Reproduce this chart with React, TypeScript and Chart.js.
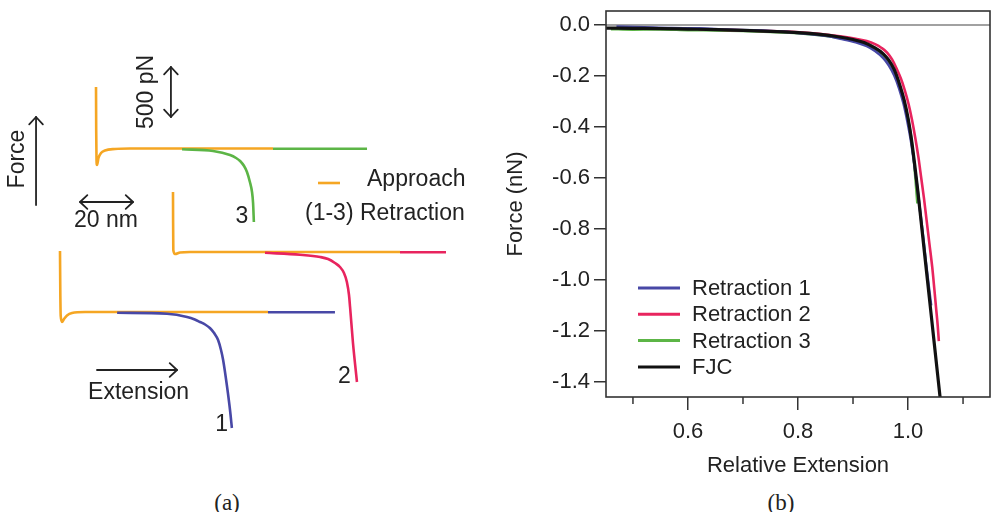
import React, { useEffect, useRef } from 'react';
import { Chart, registerables } from 'chart.js';

Chart.register(...registerables);

const FONT = '"Liberation Sans", Arial, Helvetica, sans-serif';
const SERIF = '"Liberation Serif", "Times New Roman", serif';

const ORANGE = '#f5a623';
const BLUE = '#4848a6';
const PINK = '#e8245e';
const GREEN = '#5cb546';
const BLACK = '#111111';
const INK = '#222222';

// ---------- Panel (a): schematic traces. Extension in nm, force in pN (traces offset vertically) ----------
const approach1Ext = [22.64, 22.75, 22.91, 23.4, 24.15, 25.28, 27.17, 32.08, 101.13];
const approach1Force = [2190, 1800, 1540, 1480, 1510, 1545, 1570, 1580, 1580];
const retraction1Ext = [44.2, 63.0, 70.6, 73.5, 75.5, 77.4, 79.2, 80.8, 82.3, 83.4, 84.2, 85.7, 86.8, 87.5];
const retraction1Force = [1572, 1562, 1530, 1505, 1480, 1455, 1420, 1370, 1300, 1200, 1100, 830, 600, 420];
const retraction1TailExt = [101.13, 126.4];
const retraction1TailForce = [1578, 1578];

const approach2Ext = [65.28, 65.32, 65.4, 66.04, 67.92, 71.7, 150.94];
const approach2Force = [2780, 2500, 2200, 2160, 2175, 2180, 2180];
const retraction2Ext = [100.0, 113.2, 120.8, 123.8, 126.4, 128.3, 129.8, 130.9, 131.7, 132.1, 133.2, 134.7];
const retraction2Force = [2172, 2152, 2130, 2110, 2070, 2030, 1970, 1880, 1750, 1630, 1270, 880];
const retraction2TailExt = [150.94, 168.3];
const retraction2TailForce = [2178, 2178];

const approach3Ext = [36.23, 36.3, 36.42, 36.6, 37.17, 38.11, 39.62, 43.4, 49.06, 103.02];
const approach3Force = [3830, 3400, 3100, 3050, 3120, 3170, 3195, 3210, 3215, 3215];
const retraction3Ext = [68.7, 80.4, 86.8, 89.1, 90.6, 92.1, 93.2, 94.3, 95.1, 95.5, 95.8];
const retraction3Force = [3207, 3190, 3150, 3120, 3090, 3040, 2980, 2880, 2780, 2670, 2480];
const retraction3TailExt = [103.02, 138.5];
const retraction3TailForce = [3213, 3213];

// scale bars / arrows of the schematic (nm, pN)
const forceArrow = { ext: 13.6, from: 2650, to: 3530 };
const pNBar = { ext: 64.5, from: 3530, to: 4030, label: '500 pN' };
const nmBar = { force: 2680, from: 30.2, to: 50.2, label: '20 nm' };
const extensionArrow = { force: 1000, from: 36.6, to: 66.8 };

// ---------- Panel (b): relative extension vs force (nN) ----------
const r1Ext = [0.47, 0.52, 0.57, 0.62, 0.67, 0.72, 0.77, 0.81, 0.85, 0.88, 0.905, 0.925, 0.94, 0.955, 0.965, 0.975, 0.984, 0.992, 0.999, 1.005, 1.011, 1.017, 1.022, 1.028, 1.033, 1.038, 1.042];
const r1Force = [-0.006, -0.009, -0.012, -0.013, -0.018, -0.021, -0.026, -0.033, -0.042, -0.055, -0.068, -0.083, -0.102, -0.13, -0.158, -0.198, -0.25, -0.31, -0.38, -0.45, -0.54, -0.64, -0.73, -0.84, -0.94, -1.03, -1.1];

const r2Ext = [0.62, 0.67, 0.72, 0.77, 0.81, 0.85, 0.88, 0.905, 0.925, 0.94, 0.952, 0.962, 0.971, 0.979, 0.987, 0.994, 1.001, 1.007, 1.013, 1.019, 1.024, 1.029, 1.034, 1.039, 1.044, 1.048, 1.051, 1.054, 1.056];
const r2Force = [-0.016, -0.019, -0.022, -0.025, -0.03, -0.037, -0.045, -0.054, -0.063, -0.075, -0.09, -0.108, -0.135, -0.17, -0.21, -0.255, -0.31, -0.37, -0.44, -0.52, -0.6, -0.68, -0.77, -0.86, -0.95, -1.04, -1.11, -1.18, -1.24];

const r3Ext = [0.46, 0.5, 0.55, 0.6, 0.65, 0.7, 0.75, 0.8, 0.84, 0.87, 0.9, 0.92, 0.94, 0.955, 0.965, 0.975, 0.984, 0.992, 0.999, 1.005, 1.011, 1.017];
const r3Force = [-0.016, -0.018, -0.017, -0.02, -0.021, -0.023, -0.027, -0.032, -0.04, -0.049, -0.061, -0.074, -0.094, -0.12, -0.148, -0.188, -0.24, -0.295, -0.36, -0.43, -0.54, -0.7];

const fjcExt = [0.451, 0.5, 0.55, 0.6, 0.65, 0.7, 0.75, 0.8, 0.84, 0.87, 0.9, 0.92, 0.94, 0.955, 0.965, 0.975, 0.985, 0.993, 1.0, 1.006, 1.012, 1.018, 1.024, 1.03, 1.036, 1.042, 1.048, 1.054, 1.06];
const fjcForce = [-0.012, -0.013, -0.014, -0.016, -0.018, -0.021, -0.025, -0.03, -0.037, -0.045, -0.057, -0.069, -0.09, -0.113, -0.138, -0.175, -0.235, -0.295, -0.365, -0.445, -0.545, -0.655, -0.775, -0.895, -1.015, -1.135, -1.255, -1.375, -1.495];

const seriesLabels = ['Retraction 1', 'Retraction 2', 'Retraction 3', 'FJC'];
const xMajorTicks = [0.6, 0.8, 1.0];
const xMinorTicks = [0.5, 0.7, 0.9, 1.1];
const yTicks = [0, -0.2, -0.4, -0.6, -0.8, -1.0, -1.2, -1.4];

const pts = (xs: number[], ys: number[]) => xs.map((x, i) => ({ x, y: ys[i] }));

function arrowHead(ctx: CanvasRenderingContext2D, x: number, y: number, angle: number) {
  const len = 10;
  const spread = 0.75;
  ctx.beginPath();
  ctx.moveTo(x - len * Math.cos(angle - spread), y - len * Math.sin(angle - spread));
  ctx.lineTo(x, y);
  ctx.lineTo(x - len * Math.cos(angle + spread), y - len * Math.sin(angle + spread));
  ctx.stroke();
}

function arrow(ctx: CanvasRenderingContext2D, x1: number, y1: number, x2: number, y2: number, both: boolean) {
  ctx.beginPath();
  ctx.moveTo(x1, y1);
  ctx.lineTo(x2, y2);
  ctx.stroke();
  const a = Math.atan2(y2 - y1, x2 - x1);
  arrowHead(ctx, x2, y2, a);
  if (both) arrowHead(ctx, x1, y1, a + Math.PI);
}

const schematicPlugin = {
  id: 'schematic',
  afterDatasetsDraw(chart: any) {
    const { ctx, scales } = chart;
    const px = (v: number) => scales.x.getPixelForValue(v);
    const py = (v: number) => scales.y.getPixelForValue(v);
    ctx.save();
    ctx.strokeStyle = INK;
    ctx.fillStyle = INK;
    ctx.lineWidth = 1.8;
    ctx.lineCap = 'round';
    ctx.lineJoin = 'round';
    arrow(ctx, px(forceArrow.ext), py(forceArrow.from), px(forceArrow.ext), py(forceArrow.to), false);
    arrow(ctx, px(pNBar.ext), py(pNBar.from), px(pNBar.ext), py(pNBar.to), true);
    arrow(ctx, px(nmBar.from), py(nmBar.force), px(nmBar.to), py(nmBar.force), true);
    arrow(ctx, px(extensionArrow.from), py(extensionArrow.force), px(extensionArrow.to), py(extensionArrow.force), false);

    // legend swatch
    ctx.strokeStyle = ORANGE;
    ctx.lineWidth = 2.6;
    ctx.lineCap = 'butt';
    ctx.beginPath();
    ctx.moveTo(px(120.0), py(2870));
    ctx.lineTo(px(128.3), py(2870));
    ctx.stroke();

    ctx.font = `23px ${FONT}`;
    ctx.textBaseline = 'middle';
    ctx.textAlign = 'center';
    ctx.fillText(nmBar.label, px(40), py(2490));
    ctx.fillText('Extension', px(52.3), py(770));
    ctx.fillText('1', px(83.6), py(450));
    ctx.fillText('2', px(130.0), py(930));
    ctx.fillText('3', px(91.3), py(2530));
    ctx.textAlign = 'left';
    ctx.fillText('Approach', px(138.5), py(2900));
    ctx.fillText('(1-3) Retraction', px(115.1), py(2560));

    const rot = (text: string, x: number, y: number) => {
      ctx.save();
      ctx.translate(x, y);
      ctx.rotate(-Math.PI / 2);
      ctx.textAlign = 'center';
      ctx.fillText(text, 0, 0);
      ctx.restore();
    };
    rot('Force', px(6.6), py(3110));
    rot(pNBar.label, px(55.5), py(3780));
    ctx.restore();
  },
};

const frameLegendPlugin = {
  id: 'frameLegend',
  beforeDatasetsDraw(chart: any) {
    const { ctx, chartArea: a, scales } = chart;
    const y0 = scales.y.getPixelForValue(0);
    ctx.save();
    ctx.strokeStyle = '#444';
    ctx.lineWidth = 1.2;
    ctx.beginPath();
    ctx.moveTo(a.left, y0);
    ctx.lineTo(a.right, y0);
    ctx.stroke();
    ctx.restore();
  },
  afterDraw(chart: any) {
    const { ctx, chartArea: a, scales } = chart;
    ctx.save();
    ctx.strokeStyle = '#333';
    ctx.lineWidth = 1.6;
    ctx.strokeRect(a.left, a.top, a.right - a.left, a.bottom - a.top);
    ctx.lineWidth = 1.5;
    for (const v of xMinorTicks) {
      const x = scales.x.getPixelForValue(v);
      ctx.beginPath();
      ctx.moveTo(x, a.bottom);
      ctx.lineTo(x, a.bottom + 7);
      ctx.stroke();
    }
    // legend
    const ds = chart.data.datasets;
    ctx.font = `22px ${FONT}`;
    ctx.textBaseline = 'middle';
    ctx.textAlign = 'left';
    const x0 = a.left + 32;
    const y0 = scales.y.getPixelForValue(-1.0) + 8;
    ds.forEach((d: any, i: number) => {
      const y = y0 + i * 26.3;
      ctx.strokeStyle = d.borderColor;
      ctx.lineWidth = 3;
      ctx.beginPath();
      ctx.moveTo(x0, y);
      ctx.lineTo(x0 + 42, y);
      ctx.stroke();
      ctx.fillStyle = INK;
      ctx.fillText(d.label, x0 + 54, y + 1);
    });
    ctx.restore();
  },
};

export default function App() {
  const aRef = useRef<HTMLCanvasElement>(null);
  const bRef = useRef<HTMLCanvasElement>(null);

  useEffect(() => {
    const line = (label: string, data: any, color: string, order: number, width = 2.6) => ({
      label,
      data,
      borderColor: color,
      backgroundColor: color,
      borderWidth: width,
      pointRadius: 0,
      fill: false,
      cubicInterpolationMode: 'monotone' as const,
      order,
    });

    const chartA = new Chart(aRef.current!, {
      type: 'line',
      data: {
        datasets: [
          line('Approach 1', pts(approach1Ext, approach1Force), ORANGE, 2),
          line('Approach 2', pts(approach2Ext, approach2Force), ORANGE, 2),
          line('Approach 3', pts(approach3Ext, approach3Force), ORANGE, 2),
          line('Retraction 1', pts(retraction1Ext, retraction1Force), BLUE, 1),
          line('Retraction 1 detached', pts(retraction1TailExt, retraction1TailForce), BLUE, 1),
          line('Retraction 2', pts(retraction2Ext, retraction2Force), PINK, 1),
          line('Retraction 2 detached', pts(retraction2TailExt, retraction2TailForce), PINK, 1),
          line('Retraction 3', pts(retraction3Ext, retraction3Force), GREEN, 1),
          line('Retraction 3 detached', pts(retraction3TailExt, retraction3TailForce), GREEN, 1),
        ],
      },
      options: {
        responsive: false,
        animation: false,
        devicePixelRatio: 1,
        layout: { padding: 0 },
        plugins: { legend: { display: false }, tooltip: { enabled: false } },
        scales: {
          x: { type: 'linear', min: 0, max: 490 / 2.65, display: false },
          y: { type: 'linear', min: 0, max: 4700, display: false },
        },
      },
      plugins: [schematicPlugin],
    });

    const tickFont = { family: FONT, size: 22 };
    const chartB = new Chart(bRef.current!, {
      type: 'line',
      data: {
        datasets: [
          line(seriesLabels[0], pts(r1Ext, r1Force), BLUE, 1),
          line(seriesLabels[1], pts(r2Ext, r2Force), PINK, 2),
          line(seriesLabels[2], pts(r3Ext, r3Force), GREEN, 3),
          line(seriesLabels[3], pts(fjcExt, fjcForce), BLACK, 0, 3.2),
        ],
      },
      options: {
        responsive: false,
        animation: false,
        devicePixelRatio: 1,
        layout: { padding: { top: 11, right: 2, left: 0, bottom: 0 } },
        plugins: { legend: { display: false }, tooltip: { enabled: false } },
        scales: {
          x: {
            type: 'linear',
            min: 0.451,
            max: 1.149,
            afterBuildTicks: (s: any) => {
              s.ticks = xMajorTicks.map((v) => ({ value: v }));
            },
            afterFit: (s: any) => {
              s.height = 83;
              s.paddingLeft = 0;
              s.paddingRight = 0;
            },
            grid: { drawOnChartArea: false, drawTicks: true, tickLength: 13, color: '#333', lineWidth: 1.5 },
            border: { display: false },
            ticks: {
              font: tickFont,
              color: INK,
              padding: 9,
              maxRotation: 0,
              callback: (v: any) => Number(v).toFixed(1),
            },
            title: {
              display: true,
              text: 'Relative Extension',
              font: tickFont,
              color: INK,
              padding: { top: 0, bottom: 1 },
            },
          },
          y: {
            type: 'linear',
            min: -1.459,
            max: 0.055,
            afterBuildTicks: (s: any) => {
              s.ticks = yTicks.map((v) => ({ value: v }));
            },
            afterFit: (s: any) => {
              s.width = 116;
              s.paddingTop = 0;
              s.paddingBottom = 0;
            },
            grid: { drawOnChartArea: false, drawTicks: true, tickLength: 12, color: '#333', lineWidth: 1.5 },
            border: { display: false },
            ticks: {
              font: tickFont,
              color: INK,
              padding: 4,
              callback: (v: any) => Number(v).toFixed(1),
            },
            title: {
              display: true,
              text: 'Force (nN)',
              font: tickFont,
              color: INK,
              padding: { top: 13, bottom: 0 },
            },
          },
        },
      },
      plugins: [frameLegendPlugin],
    });

    return () => {
      chartA.destroy();
      chartB.destroy();
    };
  }, []);

  const caption = (text: string, cx: number) => (
    <div
      style={{
        position: 'absolute',
        left: cx - 30,
        top: 491,
        width: 60,
        textAlign: 'center',
        font: `23px ${SERIF}`,
        lineHeight: '24px',
        color: INK,
      }}
    >
      {text}
    </div>
  );

  return (
    <div style={{ position: 'absolute', left: 0, top: 0, width: 992, height: 512, overflow: 'hidden', background: '#fff' }}>
      <canvas ref={aRef} width={490} height={470} style={{ position: 'absolute', left: 0, top: 0, width: 490, height: 470 }} />
      <canvas ref={bRef} width={502} height={480} style={{ position: 'absolute', left: 490, top: 0, width: 502, height: 480 }} />
      {caption('(a)', 227)}
      {caption('(b)', 781)}
    </div>
  );
}
